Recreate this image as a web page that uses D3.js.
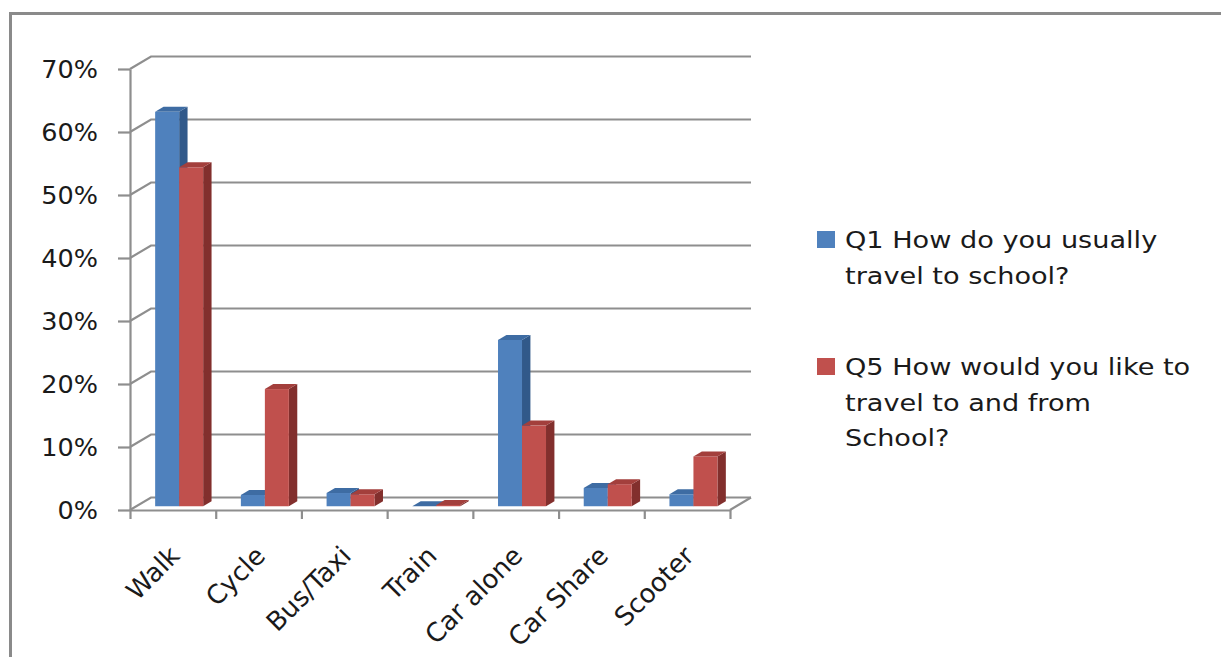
<!DOCTYPE html>
<html>
<head>
<meta charset="utf-8">
<script src="https://cdn.jsdelivr.net/npm/d3@7"></script>
<style>
  body { margin: 0; background: #fff; }
  text { font-family: "DejaVu Sans", sans-serif; fill: #1a1a1a; }
</style>
</head>
<body>
<div id="chart-area"></div>
<script>
const categories = ["Walk", "Cycle", "Bus/Taxi", "Train", "Car alone", "Car Share", "Scooter"]
const series = ["Q1", "Q5"]
const q1Values = [62.6, 1.8, 2.1, 0.0, 26.4, 2.9, 1.9]
const q5Values = [53.8, 18.6, 1.9, 0.2, 12.8, 3.5, 7.9]
const yTicks = [0, 10, 20, 30, 40, 50, 60, 70]
const legendLabels = [
    ["Q1 How do you usually", "travel to school?"],
    ["Q5 How would you like to", "travel to and from", "School?"]
]

const WIDTH = 1221
const HEIGHT = 657
const PLOT = { left: 130, right: 730, top: 69, bottom: 510 }
// 3d depth of the floor / walls
const DEPTH = { dx: 21, dy: -12.5 }
const BAR_T0 = 0.3, BAR_T1 = 0.7

const colors = {
    Q1: { front: "#4f81bd", side: "#31598a", top: "#3e6ca3" },
    Q5: { front: "#c0504d", side: "#822f2d", top: "#a33f3c" }
}
const GRID = "#8e8e8e"

const svg = d3.select("#chart-area").append("svg")
    .attr("width", WIDTH)
    .attr("height", HEIGHT)

// chart frame
svg.append("rect")
    .attr("x", 10.5).attr("y", 13.5)
    .attr("width", 1400).attr("height", 1000)
    .attr("fill", "none")
    .attr("stroke", "#8a8a8a")
    .attr("stroke-width", 3)

const x = d3.scaleBand()
    .domain(categories)
    .range([PLOT.left, PLOT.right])
    .paddingInner(0.44)
    .paddingOuter(0.22)

const xs = d3.scaleBand()
    .domain(series)
    .range([0, x.bandwidth()])

const y = d3.scaleLinear()
    .domain([0, 70])
    .range([PLOT.bottom, PLOT.top])

const xTick = d3.scaleLinear()
    .domain([0, categories.length])
    .range([PLOT.left, PLOT.right])

const g = svg.append("g")

// back wall gridlines + left wall diagonals
const grid = g.append("g").attr("class", "grid")
yTicks.forEach(v => {
    grid.append("path")
        .attr("d", `M${PLOT.left},${y(v)} L${PLOT.left + DEPTH.dx},${y(v) + DEPTH.dy} L${PLOT.right + DEPTH.dx},${y(v) + DEPTH.dy}`)
        .attr("fill", "none")
        .attr("stroke", GRID)
        .attr("stroke-width", 2.2)
})
// floor right edge
grid.append("path")
    .attr("d", `M${PLOT.right},${PLOT.bottom} L${PLOT.right + DEPTH.dx},${PLOT.bottom + DEPTH.dy}`)
    .attr("stroke", GRID)
    .attr("stroke-width", 2.2)

// y axis
const yAxisCall = d3.axisLeft(y)
    .tickValues(yTicks)
    .tickSize(12)
    .tickSizeOuter(0)
    .tickPadding(20)
    .tickFormat(d => d + "%")
const yAxis = g.append("g")
    .attr("class", "y axis")
    .attr("transform", `translate(${PLOT.left}, 0)`)
    .call(yAxisCall)
yAxis.selectAll("path, line").attr("stroke", GRID).attr("stroke-width", 2.2)
yAxis.selectAll("text")
    .attr("font-size", "25.5px")
    .attr("font-family", "DejaVu Sans")
    .attr("fill", "#1a1a1a")

// x axis (ticks between categories)
const xAxisCall = d3.axisBottom(xTick)
    .tickValues(d3.range(categories.length + 1))
    .tickSize(9)
    .tickSizeOuter(0)
    .tickFormat("")
const xAxis = g.append("g")
    .attr("class", "x axis")
    .attr("transform", `translate(0, ${PLOT.bottom})`)
    .call(xAxisCall)
xAxis.selectAll("path, line").attr("stroke", GRID).attr("stroke-width", 2.2)

// category labels
g.append("g").selectAll("text")
    .data(categories)
    .enter().append("text")
    .attr("transform", d => `translate(${x(d) + x.bandwidth() / 2 + 2}, 551) rotate(-45)`)
    .attr("text-anchor", "end")
    .attr("dominant-baseline", "central")
    .attr("font-size", "26px")
    .text(d => d)

// bars
const rows = []
categories.forEach((c, i) => {
    rows.push({ cat: c, s: "Q1", v: q1Values[i] })
    rows.push({ cat: c, s: "Q5", v: q5Values[i] })
})

const ox = BAR_T0 * DEPTH.dx, oy = BAR_T0 * DEPTH.dy
const ddx = (BAR_T1 - BAR_T0) * DEPTH.dx, ddy = (BAR_T1 - BAR_T0) * DEPTH.dy
const bw = xs.bandwidth()

const bars = g.append("g").attr("class", "bars")
    .selectAll("g")
    .data(rows)
    .enter().append("g")

bars.each(function (d) {
    const sel = d3.select(this)
    const x0 = x(d.cat) + xs(d.s) + ox
    const top = y(d.v) + oy
    const bot = y(0) + oy
    const c = colors[d.s]
    sel.append("path")
        .attr("d", `M${x0 + bw},${top} L${x0 + bw + ddx},${top + ddy} L${x0 + bw + ddx},${bot + ddy} L${x0 + bw},${bot} Z`)
        .attr("fill", c.side)
    sel.append("rect")
        .attr("x", x0)
        .attr("y", top)
        .attr("width", bw)
        .attr("height", bot - top)
        .attr("fill", c.front)
    sel.append("path")
        .attr("d", `M${x0},${top} L${x0 + ddx},${top + ddy} L${x0 + bw + ddx},${top + ddy} L${x0 + bw},${top} Z`)
        .attr("fill", c.top)
})

// legend
const legend = svg.append("g").attr("class", "legend")
const legendTop = [231, 358]
legendLabels.forEach((lines, i) => {
    legend.append("rect")
        .attr("x", 817)
        .attr("y", legendTop[i])
        .attr("width", 18)
        .attr("height", 17)
        .attr("fill", colors[series[i]].front)
    lines.forEach((line, j) => {
        legend.append("text")
            .attr("transform", `translate(845, ${legendTop[i] + 17 + j * 35.5}) scale(1.18, 1)`)
            .attr("font-size", "23px")
            .text(line)
    })
})
</script>
</body>
</html>
